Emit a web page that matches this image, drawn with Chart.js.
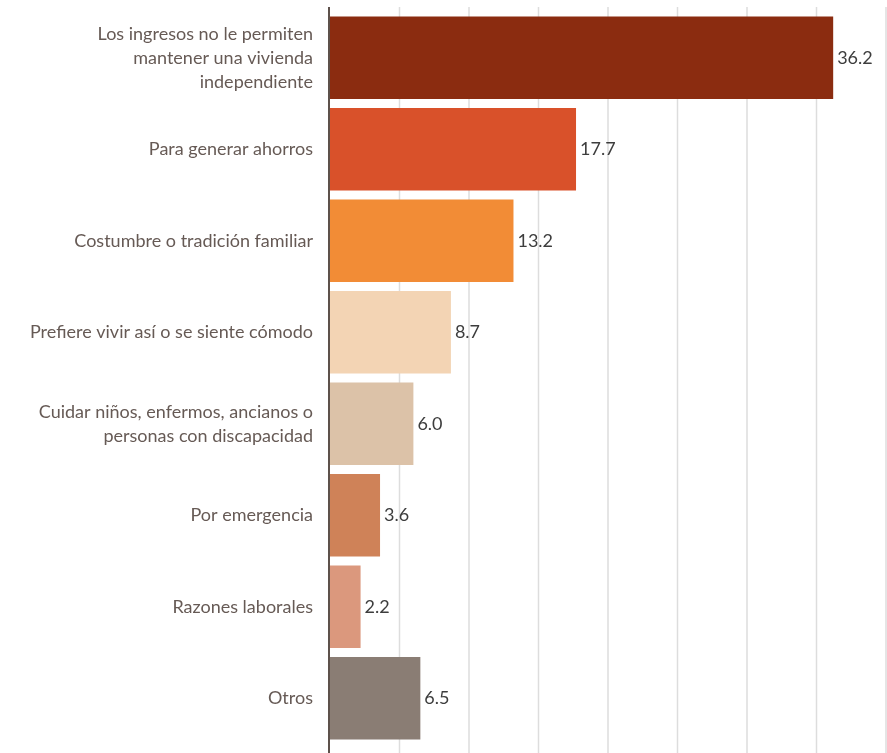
<!DOCTYPE html>
<html>
<head>
<meta charset="utf-8">
<script src="https://cdn.jsdelivr.net/npm/chart.js@4"></script>
<style>
  html, body { margin: 0; padding: 0; background: #fff; }
  #wrap { width: 887px; height: 753px; }
</style>
</head>
<body>
<div id="wrap"><canvas id="razonesChart"></canvas></div>
<script>
// Datos (porcentajes)
const categorias = [
    ['Los ingresos no le permiten', 'mantener una vivienda', 'independiente'],
    'Para generar ahorros',
    'Costumbre o tradición familiar',
    'Prefiere vivir así o se siente cómodo',
    ['Cuidar niños, enfermos, ancianos o', 'personas con discapacidad'],
    'Por emergencia',
    'Razones laborales',
    'Otros'
];
const valores = [36.2, 17.7, 13.2, 8.7, 6.0, 3.6, 2.2, 6.5];
const colores = ['#8B2C10', '#D9512A', '#F28C36', '#F3D4B4', '#DCC2A8', '#CF8258', '#DB987D', '#8A7D74'];
const ticksX = [0, 5, 10, 15, 20, 25, 30, 35, 40];

// lineas verticales de la rejilla y el eje, un poco mas largas que el area
const rejilla = {
    id: 'rejilla',
    beforeDatasetsDraw(chart) {
        const ctx = chart.ctx;
        const x = chart.scales.x;
        const top = chart.chartArea.top - 5;
        const bottom = chart.height;
        ctx.save();
        ticksX.forEach(function(t) {
            const px = x.getPixelForValue(t);
            ctx.beginPath();
            if (t === 0) {
                ctx.strokeStyle = '#5d514b';
                ctx.lineWidth = 2;
                ctx.moveTo(px - 1, top);
                ctx.lineTo(px - 1, bottom);
            } else {
                ctx.strokeStyle = '#dddddd';
                ctx.lineWidth = 1.5;
                ctx.moveTo(px, top);
                ctx.lineTo(px, bottom);
            }
            ctx.stroke();
        });
        ctx.restore();
    }
};

// etiquetas con el valor al final de cada barra
const etiquetas = {
    id: 'etiquetas',
    afterDatasetsDraw(chart) {
        const ctx = chart.ctx;
        const meta = chart.getDatasetMeta(0);
        ctx.save();
        ctx.font = '18px Lato, "Noto Sans", sans-serif';
        ctx.fillStyle = '#3d3d3d';
        ctx.textAlign = 'left';
        ctx.textBaseline = 'middle';
        meta.data.forEach(function(bar, i) {
            ctx.fillText(valores[i].toFixed(1), bar.x + 4, bar.y);
        });
        ctx.restore();
    }
};

const ctx = document.getElementById('razonesChart').getContext('2d');
new Chart(ctx, {
    type: 'bar',
    data: {
        labels: categorias,
        datasets: [{
            data: valores,
            backgroundColor: colores,
            borderWidth: 0,
            categoryPercentage: 0.9,
            barPercentage: 1.0
        }]
    },
    options: {
        indexAxis: 'y',
        responsive: true,
        maintainAspectRatio: false,
        animation: false,
        layout: { padding: { top: 12, bottom: 9, right: 1, left: 0 } },
        plugins: {
            legend: { display: false },
            tooltip: { enabled: false }
        },
        scales: {
            x: {
                min: 0,
                max: 40,
                display: false
            },
            y: {
                grid: { display: false, drawTicks: false },
                border: { display: false },
                ticks: {
                    color: '#665a55',
                    padding: 17,
                    font: { family: 'Lato, "Noto Sans", sans-serif', size: 18, lineHeight: 1.33 }
                },
                afterFit: function(scale) {
                    scale.width = 330;
                    scale.paddingTop = 0;
                    scale.paddingBottom = 0;
                }
            }
        }
    },
    plugins: [rejilla, etiquetas]
});
</script>
</body>
</html>
